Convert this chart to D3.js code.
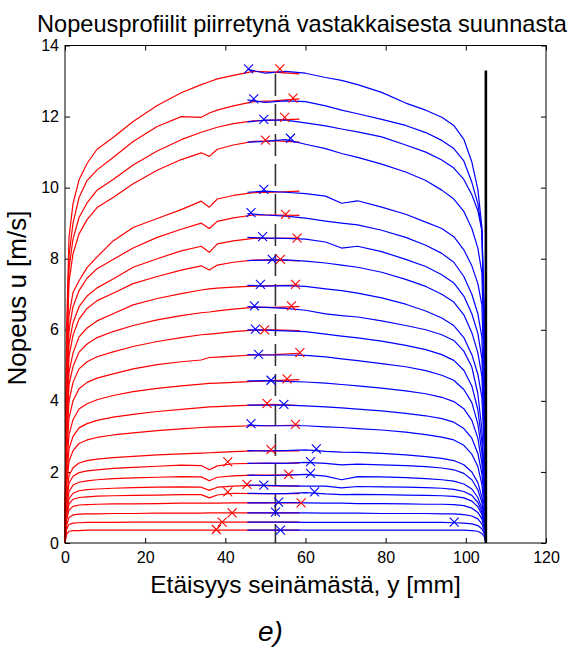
<!DOCTYPE html>
<html>
<head>
<meta charset="utf-8">
<script src="https://cdn.jsdelivr.net/npm/d3@7"></script>
<style>
  html, body { margin: 0; padding: 0; background: #fff; }
  svg { display: block; }
  text { font-family: "Liberation Sans", Arial, sans-serif; fill: #000; }
</style>
</head>
<body>
<svg id="chart" width="581" height="650"></svg>
<script>
// Measurement positions (mm from the wall) for the profiles measured from the left side (red)
const redPositions = [0, 0.4, 1, 2, 3.5, 5.5, 8, 12, 17, 23, 29, 34, 36, 38, 42, 47, 52, 58.5];
// Measurement positions (mm) for the profiles measured from the opposite side (blue)
const bluePositions = [45.5, 50, 55, 60, 65, 69, 73, 79, 85, 90, 94, 97, 99.5, 101.5, 103, 104, 104.6, 105];

// Velocity u [m/s] of each profile at redPositions
const redProfiles = [
  [0, 6.0, 8.6, 9.55, 10.22, 10.68, 11.08, 11.41, 11.86, 12.31, 12.67, 12.9, 12.98, 13.06, 13.16, 13.27, 13.25, 13.2],
  [0, 5.6, 8.1, 9.0, 9.72, 10.2, 10.5, 10.85, 11.3, 11.72, 12.0, 11.98, 12.1, 12.18, 12.3, 12.42, 12.44, 12.5],
  [0, 5.35, 7.73, 8.56, 9.16, 9.57, 9.93, 10.23, 10.64, 11.03, 11.35, 11.56, 11.63, 11.7, 11.8, 11.88, 11.9, 11.93],
  [0, 5.1, 7.35, 8.14, 8.7, 9.1, 9.44, 9.72, 10.11, 10.49, 10.79, 10.98, 10.88, 11.08, 11.2, 11.3, 11.32, 11.28],
  [0, 4.4, 6.4, 7.05, 7.38, 7.75, 8.05, 8.5, 8.88, 9.13, 9.38, 9.62, 9.45, 9.68, 9.78, 9.86, 9.87, 9.9],
  [0, 4.1, 6.0, 6.65, 7.1, 7.45, 7.72, 7.98, 8.3, 8.6, 8.83, 9.0, 8.85, 9.05, 9.15, 9.23, 9.23, 9.22],
  [0, 3.85, 5.6, 6.2, 6.65, 6.95, 7.18, 7.43, 7.76, 8.0, 8.22, 8.35, 8.18, 8.42, 8.5, 8.57, 8.57, 8.58],
  [0, 3.6, 5.25, 5.85, 6.3, 6.6, 6.82, 7.03, 7.3, 7.5, 7.68, 7.8, 7.68, 7.82, 7.9, 7.96, 7.97, 7.94],
  [0, 3.3, 4.8, 5.35, 5.8, 6.05, 6.25, 6.45, 6.7, 6.88, 7.02, 7.12, 7.15, 7.17, 7.2, 7.23, 7.24, 7.26],
  [0, 3.1, 4.45, 4.97, 5.37, 5.6, 5.78, 5.95, 6.12, 6.28, 6.4, 6.48, 6.5, 6.53, 6.58, 6.63, 6.63, 6.65],
  [0, 2.8, 4.0, 4.52, 4.9, 5.1, 5.24, 5.38, 5.53, 5.67, 5.78, 5.86, 5.88, 5.9, 5.95, 5.99, 6.0, 5.98],
  [0, 2.5, 3.52, 4.0, 4.34, 4.52, 4.64, 4.76, 4.9, 5.02, 5.1, 5.15, 5.22, 5.23, 5.26, 5.29, 5.3, 5.34],
  [0, 2.1, 3.05, 3.47, 3.77, 3.92, 4.03, 4.15, 4.26, 4.35, 4.42, 4.47, 4.49, 4.5, 4.52, 4.55, 4.57, 4.6],
  [0, 1.85, 2.65, 3.0, 3.24, 3.36, 3.45, 3.54, 3.62, 3.7, 3.76, 3.81, 3.83, 3.84, 3.86, 3.88, 3.9, 3.87],
  [0, 1.6, 2.3, 2.6, 2.8, 2.9, 2.97, 3.04, 3.1, 3.16, 3.21, 3.25, 3.26, 3.27, 3.28, 3.3, 3.3, 3.32],
  [0, 1.3, 1.9, 2.12, 2.25, 2.32, 2.36, 2.4, 2.44, 2.48, 2.51, 2.53, 2.54, 2.55, 2.57, 2.59, 2.6, 2.59],
  [0, 1.15, 1.68, 1.88, 1.98, 2.03, 2.06, 2.1, 2.13, 2.16, 2.19, 2.18, 2.06, 2.17, 2.23, 2.24, 2.24, 2.25],
  [0, 1.0, 1.45, 1.63, 1.71, 1.75, 1.78, 1.81, 1.83, 1.85, 1.87, 1.86, 1.75, 1.85, 1.89, 1.91, 1.91, 1.92],
  [0, 0.85, 1.25, 1.4, 1.47, 1.5, 1.52, 1.54, 1.56, 1.57, 1.58, 1.57, 1.48, 1.57, 1.6, 1.62, 1.61, 1.6],
  [0, 0.75, 1.1, 1.23, 1.28, 1.3, 1.32, 1.33, 1.34, 1.35, 1.36, 1.36, 1.27, 1.35, 1.4, 1.39, 1.39, 1.39],
  [0, 0.65, 0.93, 1.03, 1.07, 1.08, 1.09, 1.1, 1.1, 1.11, 1.12, 1.12, 1.12, 1.12, 1.13, 1.13, 1.13, 1.13],
  [0, 0.5, 0.72, 0.79, 0.81, 0.82, 0.82, 0.83, 0.83, 0.84, 0.84, 0.84, 0.85, 0.85, 0.85, 0.85, 0.85, 0.85],
  [0, 0.38, 0.52, 0.56, 0.57, 0.58, 0.58, 0.58, 0.59, 0.59, 0.59, 0.59, 0.59, 0.59, 0.59, 0.59, 0.59, 0.59],
  [0, 0.25, 0.33, 0.35, 0.35, 0.36, 0.36, 0.36, 0.36, 0.36, 0.36, 0.36, 0.36, 0.36, 0.36, 0.36, 0.36, 0.36]
];

// Velocity u [m/s] of each profile at bluePositions
const blueProfiles = [
  [13.33, 13.22, 13.27, 13.22, 13.1, 13.02, 12.9, 12.68, 12.38, 12.18, 11.98, 11.75, 11.36, 10.72, 9.95, 8.9, 6.5, 0],
  [12.47, 12.4, 12.44, 12.42, 12.3, 12.18, 12.08, 11.92, 11.75, 11.55, 11.33, 11.1, 10.75, 10.15, 9.55, 8.8, 6.0, 0],
  [11.85, 11.9, 11.9, 11.82, 11.74, 11.65, 11.57, 11.43, 11.2, 11.0, 10.78, 10.55, 10.23, 9.8, 9.35, 8.8, 6.0, 0],
  [11.28, 11.3, 11.35, 11.22, 11.1, 10.96, 10.85, 10.66, 10.44, 10.2, 9.93, 9.68, 9.33, 8.85, 8.3, 7.6, 5.2, 0],
  [9.87, 9.9, 9.87, 9.83, 9.76, 9.56, 9.63, 9.45, 9.25, 9.03, 8.85, 8.62, 8.25, 7.8, 7.3, 6.7, 4.5, 0],
  [9.27, 9.23, 9.2, 9.14, 9.06, 9.0, 8.95, 8.8, 8.6, 8.38, 8.15, 7.9, 7.5, 7.0, 6.45, 5.8, 3.8, 0],
  [8.6, 8.58, 8.57, 8.55, 8.47, 8.3, 8.35, 8.2, 7.98, 7.78, 7.55, 7.32, 6.95, 6.45, 5.9, 5.2, 3.4, 0],
  [7.95, 7.96, 7.97, 7.93, 7.88, 7.82, 7.76, 7.62, 7.42, 7.22, 7.0, 6.78, 6.42, 5.92, 5.35, 4.7, 3.0, 0],
  [7.25, 7.23, 7.24, 7.22, 7.15, 7.1, 7.03, 6.9, 6.72, 6.53, 6.33, 6.12, 5.78, 5.3, 4.75, 4.1, 2.6, 0],
  [6.65, 6.63, 6.6, 6.55, 6.45, 6.4, 6.36, 6.25, 6.12, 6.0, 5.86, 5.7, 5.4, 4.95, 4.2, 3.2, 2.0, 0],
  [6.0, 5.99, 5.97, 5.95, 5.88, 5.82, 5.77, 5.68, 5.56, 5.44, 5.3, 5.14, 4.86, 4.42, 3.75, 2.85, 1.8, 0],
  [5.3, 5.29, 5.29, 5.28, 5.24, 5.18, 5.13, 5.05, 4.96, 4.85, 4.72, 4.58, 4.32, 3.95, 3.35, 2.55, 1.6, 0],
  [4.56, 4.57, 4.55, 4.53, 4.5, 4.46, 4.42, 4.36, 4.28, 4.2, 4.1, 3.98, 3.78, 3.45, 2.95, 2.25, 1.4, 0],
  [3.88, 3.88, 3.88, 3.86, 3.83, 3.8, 3.77, 3.72, 3.65, 3.58, 3.5, 3.4, 3.22, 2.95, 2.52, 1.95, 1.2, 0],
  [3.32, 3.3, 3.3, 3.3, 3.27, 3.25, 3.22, 3.18, 3.12, 3.05, 2.98, 2.9, 2.75, 2.5, 2.15, 1.65, 1.0, 0],
  [2.6, 2.59, 2.6, 2.62, 2.58, 2.56, 2.55, 2.52, 2.48, 2.43, 2.38, 2.32, 2.2, 2.0, 1.7, 1.3, 0.8, 0],
  [2.24, 2.25, 2.24, 2.27, 2.24, 2.2, 2.22, 2.2, 2.18, 2.15, 2.11, 2.06, 1.96, 1.78, 1.5, 1.15, 0.7, 0],
  [1.91, 1.9, 1.91, 1.93, 1.88, 1.78, 1.87, 1.86, 1.84, 1.81, 1.78, 1.74, 1.66, 1.52, 1.28, 0.98, 0.6, 0],
  [1.63, 1.62, 1.61, 1.6, 1.6, 1.55, 1.59, 1.58, 1.57, 1.56, 1.54, 1.51, 1.45, 1.34, 1.14, 0.88, 0.55, 0],
  [1.4, 1.39, 1.39, 1.42, 1.38, 1.36, 1.37, 1.36, 1.35, 1.34, 1.33, 1.31, 1.27, 1.18, 1.02, 0.8, 0.5, 0],
  [1.13, 1.13, 1.14, 1.13, 1.12, 1.12, 1.11, 1.11, 1.1, 1.09, 1.09, 1.08, 1.05, 0.98, 0.86, 0.68, 0.42, 0],
  [0.85, 0.85, 0.85, 0.85, 0.84, 0.84, 0.84, 0.83, 0.83, 0.83, 0.82, 0.82, 0.8, 0.76, 0.68, 0.54, 0.34, 0],
  [0.59, 0.59, 0.59, 0.58, 0.58, 0.58, 0.58, 0.58, 0.58, 0.58, 0.58, 0.57, 0.56, 0.54, 0.49, 0.4, 0.26, 0],
  [0.36, 0.36, 0.36, 0.36, 0.36, 0.36, 0.36, 0.36, 0.36, 0.36, 0.36, 0.36, 0.36, 0.35, 0.33, 0.27, 0.18, 0]
];

// Location of the velocity maximum of each profile (x markers)
const redMaxPos = [53.6, 56.9, 54.8, 50.0, 55.0, 57.9, 53.75, 57.5, 56.5, 49.8, 58.6, 55.4, 50.4, 57.5, 51.4, 40.6, 55.8, 45.4, 40.6, 58.9, 41.7, 39.2, 37.75];
const redMaxU   = [13.34, 12.52, 11.98, 11.34, 9.25, 8.58, 7.98, 7.28, 6.67, 6.0, 5.36, 4.62, 3.93, 3.34, 2.63, 2.28, 1.93, 1.65, 1.44, 1.13, 0.85, 0.59, 0.38];
const blueMaxPos = [45.8, 47.1, 49.6, 56.25, 49.6, 46.4, 49.3, 51.7, 48.75, 47.25, 47.5, 48.3, 51.4, 54.6, 46.4, 62.7, 61.25, 61.25, 49.6, 62.25, 53.3, 52.5, 97.1, 53.75];
const blueMaxU   = [13.34, 12.5, 11.92, 11.39, 9.95, 9.3, 8.62, 7.98, 7.28, 6.67, 6.02, 5.31, 4.58, 3.9, 3.36, 2.65, 2.29, 1.96, 1.63, 1.44, 1.15, 0.87, 0.59, 0.36];

// Channel centre line and the opposite wall
const centreLine = { pos: 52.5, top: 13.2 };
const wallLine = { pos: 105, top: 13.3 };

const xTicks = [0, 20, 40, 60, 80, 100, 120];
const yTicks = [0, 2, 4, 6, 8, 10, 12, 14];

const titleText = "Nopeusprofiilit piirretynä vastakkaisesta suunnasta";
const xLabel = "Etäisyys seinämästä, y [mm]";
const yLabel = "Nopeus u [m/s]";
const panelLabel = "e)";

const svg = d3.select("#chart");
const plot = { left: 65, right: 546, top: 45.5, bottom: 543 };

const x = d3.scaleLinear().domain([0, 120]).range([plot.left, plot.right]);
const y = d3.scaleLinear().domain([0, 14]).range([plot.bottom, plot.top]);

// Axes with inward ticks on all four sides
const axisStyle = g => {
  g.select(".domain").remove();
  g.selectAll(".tick line").attr("stroke", "#000").attr("stroke-width", 1);
  g.selectAll(".tick text").attr("font-size", 16).attr("fill", "#000")
    .attr("font-family", "'Liberation Sans', Arial, sans-serif");
};
svg.append("g").attr("transform", `translate(0,${plot.bottom})`)
  .call(d3.axisBottom(x).tickValues(xTicks).tickSizeInner(-5).tickSizeOuter(0).tickPadding(9))
  .call(axisStyle);
svg.append("g").attr("transform", `translate(0,${plot.top})`)
  .call(d3.axisTop(x).tickValues(xTicks).tickSizeInner(-5).tickSizeOuter(0).tickFormat(""))
  .call(axisStyle);
svg.append("g").attr("transform", `translate(${plot.left},0)`)
  .call(d3.axisLeft(y).tickValues(yTicks).tickSizeInner(-5).tickSizeOuter(0).tickPadding(6))
  .call(axisStyle);
svg.append("g").attr("transform", `translate(${plot.right},0)`)
  .call(d3.axisRight(y).tickValues(yTicks).tickSizeInner(-5).tickSizeOuter(0).tickFormat(""))
  .call(axisStyle);

// Dashed centre line
svg.append("line")
  .attr("x1", x(centreLine.pos)).attr("x2", x(centreLine.pos))
  .attr("y1", y(centreLine.top)).attr("y2", y(0))
  .attr("stroke", "#333").attr("stroke-width", 1.6)
  .attr("stroke-dasharray", "22,8");

const line = d3.line().x(d => x(d[0])).y(d => y(d[1]));

// Profiles measured from the near wall (red) and from the opposite wall (blue)
svg.append("g").selectAll("path")
  .data(redProfiles)
  .join("path")
  .attr("d", vals => line(vals.map((u, i) => [redPositions[i], u])))
  .attr("fill", "none").attr("stroke", "#ff0000").attr("stroke-width", 1.2)
  .attr("stroke-linejoin", "round");

svg.append("g").selectAll("path")
  .data(blueProfiles)
  .join("path")
  .attr("d", vals => line(vals.map((u, i) => [bluePositions[i], u])))
  .attr("fill", "none").attr("stroke", "#0000ff").attr("stroke-width", 1.2)
  .attr("stroke-linejoin", "round");

// Opposite wall
svg.append("line")
  .attr("x1", x(wallLine.pos)).attr("x2", x(wallLine.pos))
  .attr("y1", y(wallLine.top)).attr("y2", y(0))
  .attr("stroke", "#000").attr("stroke-width", 2.6);

// Velocity maxima as x markers
const cross = 4.5;
function drawCrosses(posArr, uArr, colour) {
  const pts = posArr.map((p, i) => [p, uArr[i]]);
  svg.append("g").selectAll("path")
    .data(pts)
    .join("path")
    .attr("d", d => {
      const cx = x(d[0]), cy = y(d[1]);
      return `M${cx - cross},${cy - cross}L${cx + cross},${cy + cross}M${cx - cross},${cy + cross}L${cx + cross},${cy - cross}`;
    })
    .attr("stroke", colour).attr("stroke-width", 1.1).attr("fill", "none");
}
drawCrosses(blueMaxPos, blueMaxU, "#0000ff");
drawCrosses(redMaxPos, redMaxU, "#ff0000");

// Frame
svg.append("rect")
  .attr("x", plot.left).attr("y", plot.top)
  .attr("width", plot.right - plot.left).attr("height", plot.bottom - plot.top)
  .attr("fill", "none").attr("stroke", "#000").attr("stroke-width", 1);

// Titles
svg.append("text").attr("x", 302).attr("y", 31.5)
  .attr("text-anchor", "middle").attr("font-size", 23.6).text(titleText);
svg.append("text").attr("x", (plot.left + plot.right) / 2).attr("y", 593)
  .attr("text-anchor", "middle").attr("font-size", 24.5).text(xLabel);
svg.append("text").attr("transform", "translate(26,298) rotate(-90)")
  .attr("text-anchor", "middle").attr("font-size", 26).text(yLabel);
svg.append("text").attr("x", 258).attr("y", 641)
  .attr("font-family", "'Liberation Serif', 'Times New Roman', serif")
  .attr("font-style", "italic").attr("font-size", 28).text(panelLabel);
</script>
</body>
</html>
